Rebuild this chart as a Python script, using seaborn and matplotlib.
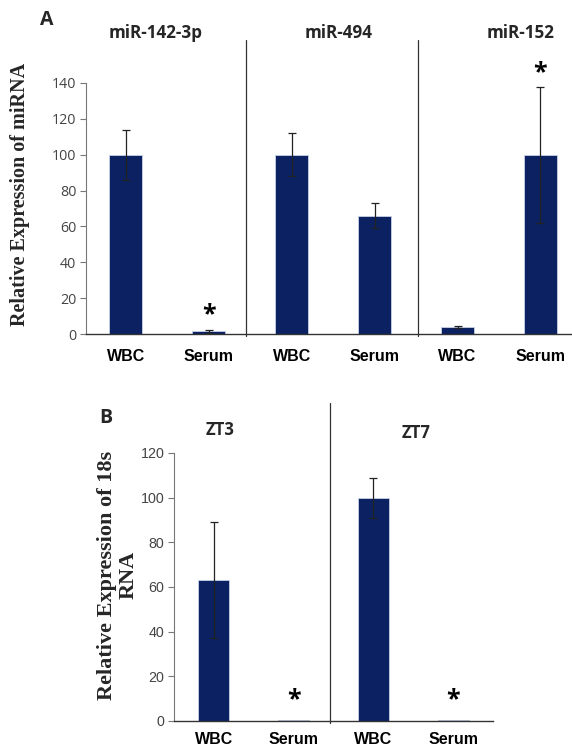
import numpy as np
import pandas as pd
import matplotlib
matplotlib.use("Agg")
import matplotlib.pyplot as plt
import seaborn as sns

# panel A data
a_groups = ["miR-142-3p", "miR-494", "miR-152"]
a_samples = ["WBC", "Serum"]
a_means = [100, 1.5, 100, 66, 4, 100]
a_err = [14, 1.0, 12, 7, 0.7, 38]
a_star = [False, True, False, False, False, True]

# panel B data
b_groups = ["ZT3", "ZT7"]
b_samples = ["WBC", "Serum"]
b_means = [63, 0.4, 100, 0.4]
b_err = [26, 0, 9, 0]
b_star = [False, True, False, True]

navy = "#0b2161"
sns.set_theme(style="white")
plt.rcParams["font.family"] = ["Open Sans", "DejaVu Sans"]

fig = plt.figure(figsize=(5.72, 7.49), dpi=100)


def panel(ax, groups, samples, means, err, star, ymax, step, star_off, tick_font,
          div_pos, div_top, width, xpad):
    keys = [g + " " + s for g in groups for s in samples]
    df = pd.DataFrame({"key": keys, "val": means})
    sns.barplot(data=df, x="key", y="val", order=keys, color=navy, width=width,
                saturation=1, errorbar=None, ax=ax, edgecolor="#c8d3e6", linewidth=0.6)
    xs = np.arange(len(keys))
    for x, m, e in zip(xs, means, err):
        if e > 0:
            ax.errorbar(x, m, yerr=e, fmt="none", ecolor="#222222", elinewidth=0.9,
                        capsize=3, capthick=0.9)
    for x, m, e, s in zip(xs, means, err, star):
        if s:
            ax.text(x, m + e + star_off, "*", ha="center", va="center",
                    fontsize=18, fontweight="bold", color="black")
    ax.set_ylim(0, ymax)
    ax.set_yticks(np.arange(0, ymax + 1, step))
    ax.set_xticks(xs)
    ax.set_xticklabels([s for g in groups for s in samples], fontweight="bold",
                       fontsize=11.5, family=["Liberation Sans"], color="black")
    ax.set_xlabel("")
    ax.set_ylabel("")
    ax.tick_params(axis="y", left=True, length=4, width=0.8, color="#777777",
                   labelsize=10.3, labelcolor="#444444", pad=3)
    for lab in ax.get_yticklabels():
        lab.set_family(tick_font)
    ax.tick_params(axis="x", bottom=False, pad=xpad)
    sns.despine(ax=ax)
    ax.spines["left"].set_color("#777777")
    ax.spines["bottom"].set_color("#333333")
    ax.spines["left"].set_linewidth(0.8)
    ax.spines["bottom"].set_linewidth(1.0)
    for d in div_pos:
        ax.plot([d, d], [-1, div_top], color="#333333", lw=0.9, clip_on=False)


axA = fig.add_axes([86 / 572, 1 - 334 / 749, (572 - 86) / 572, (334 - 83) / 749])
panel(axA, a_groups, a_samples, a_means, a_err, a_star, 140, 20, 8,
      ["Open Sans"], [1.45, 3.52], 164, 0.4, 5)
axA.set_xlim(-0.48, 5.38)
title_x = [0.36, 2.57, 4.76]
for g, tx in zip(a_groups, title_x):
    axA.text(tx, 168, g, ha="center", va="center", fontsize=12.3,
             fontweight="bold", clip_on=False)

axB = fig.add_axes([174 / 572, 1 - 721 / 749, (493 - 174) / 572, (721 - 453) / 749])
panel(axB, b_groups, b_samples, b_means, b_err, b_star, 120, 20, 9,
      ["Liberation Sans"], [1.46], 142.5, 0.39, 2)
axB.set_xlim(-0.5, 3.5)
axB.text(0.08, 130.5, b_groups[0], ha="center", va="center", fontsize=12,
         fontweight="bold", clip_on=False)
axB.text(2.53, 129, b_groups[1], ha="center", va="center", fontsize=12,
         fontweight="bold", clip_on=False)

fig.text(47 / 572, 1 - 20 / 749, "A", fontsize=14, fontweight="bold", ha="center", va="center")
fig.text(106 / 572, 1 - 418 / 749, "B", fontsize=14, fontweight="bold", ha="center", va="center")

fig.text(20 / 572, 1 - 194 / 749, "Relative Expression of miRNA", rotation=90,
         ha="center", va="center", fontsize=14.5, fontweight="bold",
         family=["Liberation Serif"])
fig.text(118 / 572, 1 - 575 / 749, "Relative Expression of 18s\nRNA", rotation=90,
         ha="center", va="center", multialignment="center", fontsize=16,
         fontweight="bold", family=["Liberation Serif"], linespacing=1.1)

fig.savefig("out.png", dpi=100)
